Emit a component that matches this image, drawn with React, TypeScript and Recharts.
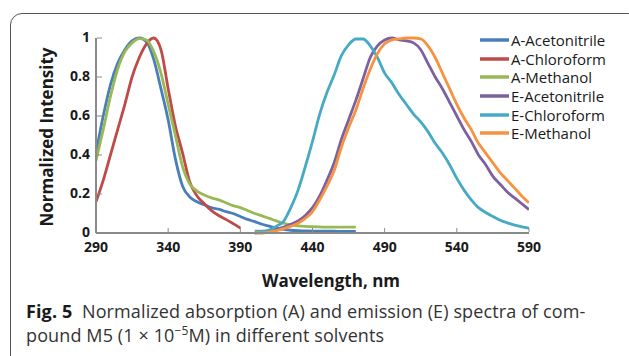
import { LineChart, Line, XAxis, YAxis } from 'recharts'

// absorption spectra, 5 nm grid
const ABS_WL = [290, 295, 300, 305, 310, 315, 320, 325, 330, 335, 340, 345, 350, 355, 360, 365, 370, 375, 380, 385, 390, 395, 400, 405, 410, 415, 420, 425, 430, 435, 440, 445, 450, 455, 460, 465, 470]
const A_ACETONITRILE = [0.41, 0.6, 0.76, 0.87, 0.94, 0.985, 1.0, 0.98, 0.89, 0.74, 0.58, 0.38, 0.24, 0.185, 0.16, 0.145, 0.13, 0.122, 0.11, 0.1, 0.085, 0.07, 0.058, 0.045, 0.035, 0.025, 0.018, 0.014, 0.012, 0.011, 0.01, 0.01, 0.009, 0.009, 0.008, 0.008, 0.008]
const A_CHLOROFORM = [0.16, 0.27, 0.4, 0.53, 0.66, 0.8, 0.9, 0.97, 1.0, 0.94, 0.74, 0.55, 0.41, 0.26, 0.19, 0.15, 0.115, 0.09, 0.07, 0.048, 0.025]
const A_METHANOL = [0.37, 0.53, 0.7, 0.84, 0.93, 0.975, 0.997, 0.99, 0.93, 0.82, 0.66, 0.5, 0.34, 0.25, 0.215, 0.195, 0.18, 0.17, 0.155, 0.14, 0.13, 0.115, 0.1, 0.088, 0.075, 0.062, 0.05, 0.042, 0.037, 0.034, 0.032, 0.031, 0.03, 0.03, 0.03, 0.03, 0.03]

// emission spectra, 5 nm grid
const EM_WL = [400, 405, 410, 415, 420, 425, 430, 435, 440, 445, 450, 455, 460, 465, 470, 475, 480, 485, 490, 495, 500, 505, 510, 515, 520, 525, 530, 535, 540, 545, 550, 555, 560, 565, 570, 575, 580, 585, 590]
const E_ACETONITRILE = [0.0, 0.004, 0.01, 0.018, 0.03, 0.045, 0.062, 0.09, 0.13, 0.19, 0.27, 0.36, 0.48, 0.58, 0.68, 0.79, 0.9, 0.96, 0.99, 1.0, 0.99, 0.985, 0.975, 0.94, 0.87, 0.8, 0.74, 0.67, 0.6, 0.53, 0.47, 0.4, 0.35, 0.29, 0.25, 0.21, 0.18, 0.15, 0.12]
const E_CHLOROFORM = [0.01, 0.01, 0.015, 0.035, 0.06, 0.13, 0.22, 0.34, 0.47, 0.61, 0.72, 0.81, 0.91, 0.965, 0.995, 0.995, 0.96, 0.9, 0.82, 0.77, 0.71, 0.66, 0.61, 0.57, 0.52, 0.46, 0.41, 0.35, 0.28, 0.22, 0.17, 0.13, 0.105, 0.085, 0.065, 0.052, 0.04, 0.032, 0.025]
const E_METHANOL = [0.0, 0.0, 0.005, 0.012, 0.022, 0.035, 0.05, 0.075, 0.11, 0.17, 0.24, 0.32, 0.44, 0.54, 0.63, 0.74, 0.84, 0.92, 0.97, 0.99, 0.995, 1.0, 1.0, 0.995, 0.96, 0.9, 0.82, 0.74, 0.66, 0.59, 0.53, 0.46, 0.41, 0.36, 0.31, 0.27, 0.23, 0.19, 0.155]

const X_TICKS = [290, 340, 390, 440, 490, 540, 590]
const Y_TICKS = [0, 0.2, 0.4, 0.6, 0.8, 1]

const absData = ABS_WL.map((wl, i) => ({
  wl,
  aAcn: A_ACETONITRILE[i],
  aChl: i < A_CHLOROFORM.length ? A_CHLOROFORM[i] : null,
  aMeoh: A_METHANOL[i],
}))
const emData = EM_WL.map((wl, i) => ({
  wl,
  eAcn: E_ACETONITRILE[i],
  eChl: E_CHLOROFORM[i],
  eMeoh: E_METHANOL[i],
}))

const SERIES = [
  { key: 'aAcn', name: 'A-Acetonitrile', color: '#4A7EBB', data: absData },
  { key: 'aChl', name: 'A-Chloroform', color: '#BE4B48', data: absData },
  { key: 'aMeoh', name: 'A-Methanol', color: '#98B954', data: absData },
  { key: 'eAcn', name: 'E-Acetonitrile', color: '#7D60A0', data: emData },
  { key: 'eChl', name: 'E-Chloroform', color: '#46AAC5', data: emData },
  { key: 'eMeoh', name: 'E-Methanol', color: '#F69240', data: emData },
]

const FONT = '"Open Sans", "DejaVu Sans", sans-serif'
const AXIS_GREY = '#8a8a8a'

const XTick = ({ x, y, payload }: any) => (
  <g>
    <line x1={x} x2={x} y1={y - 9} y2={y - 13} stroke={AXIS_GREY} strokeWidth={1} />
    <text x={x} y={y + 11} textAnchor="middle" fontFamily={FONT} fontWeight={700} fontSize={14} fill="#1a1a1a">
      {payload.value}
    </text>
  </g>
)

const YTick = ({ x, y, payload }: any) => (
  <g>
    <line x1={x + 7} x2={x + 12} y1={y} y2={y} stroke={AXIS_GREY} strokeWidth={1} />
    <text x={x} y={y + 4} textAnchor="end" fontFamily={FONT} fontWeight={700} fontSize={14} fill="#1a1a1a">
      {payload.value}
    </text>
  </g>
)

function SeriesLegend() {
  return (
    <div style={{ position: 'absolute', left: 479, top: 31, fontFamily: FONT, fontSize: 15, color: '#1a1a1a' }}>
      {SERIES.map(s => (
        <div key={s.key} style={{ display: 'flex', alignItems: 'center', height: 18.6, whiteSpace: 'nowrap' }}>
          <svg width={31} height={6}>
            <line x1={1} x2={30} y1={3} y2={3} stroke={s.color} strokeWidth={3.5} />
          </svg>
          <span style={{ marginLeft: 1 }}>{s.name}</span>
        </div>
      ))}
    </div>
  )
}

export default function App() {
  return (
    <div style={{ position: 'absolute', left: 0, top: 0, width: 629, height: 356, background: '#fff', overflow: 'hidden' }}>
      <div style={{
        position: 'absolute', left: 10, top: 13, width: 630, height: 360,
        border: '1px solid #555', borderRadius: 12, boxSizing: 'border-box',
      }} />
      <div style={{ position: 'absolute', left: 0, top: 0 }}>
        <LineChart width={629} height={260} margin={{ top: 38, right: 100, left: 56, bottom: 7 }}>
          <XAxis
            type="number"
            dataKey="wl"
            domain={[290, 590]}
            ticks={X_TICKS}
            interval={0}
            allowDataOverflow
            tickSize={0}
            tickMargin={8}
            height={20}
            tick={<XTick />}
            axisLine={{ stroke: AXIS_GREY, strokeWidth: 2 }}
          />
          <YAxis
            type="number"
            domain={[0, 1]}
            ticks={Y_TICKS}
            interval={0}
            tickSize={0}
            tickMargin={6}
            width={40}
            tick={<YTick />}
            axisLine={{ stroke: AXIS_GREY, strokeWidth: 2 }}
          />
          {SERIES.map(s => (
            <Line
              key={s.key}
              data={s.data}
              dataKey={s.key}
              name={s.name}
              type="monotone"
              stroke={s.color}
              strokeWidth={2.8}
              dot={false}
              isAnimationActive={false}
            />
          ))}
        </LineChart>
      </div>
      <SeriesLegend />
      <div style={{
        position: 'absolute', left: 46, top: 137, transform: 'translate(-50%, -50%) rotate(-90deg)',
        fontFamily: FONT, fontWeight: 700, fontSize: 17, color: '#1a1a1a', whiteSpace: 'nowrap',
      }}>
        Normalized Intensity
      </div>
      <div style={{
        position: 'absolute', left: 331, top: 280, transform: 'translate(-50%, -50%)',
        fontFamily: FONT, fontWeight: 700, fontSize: 17, color: '#1a1a1a', whiteSpace: 'nowrap',
      }}>
        Wavelength, nm
      </div>
      <div style={{
        position: 'absolute', left: 26, top: 299, fontFamily: FONT, fontSize: 18, lineHeight: '24px',
        letterSpacing: 0.12, color: '#333', whiteSpace: 'nowrap',
      }}>
        <div><b style={{ color: '#1a1a1a' }}>Fig. 5</b>&nbsp;&nbsp;Normalized absorption (A) and emission (E) spectra of com-</div>
        <div>pound M5 (1 × 10<sup style={{ fontSize: 12, lineHeight: 0 }}>−5</sup>M) in different solvents</div>
      </div>
    </div>
  )
}
